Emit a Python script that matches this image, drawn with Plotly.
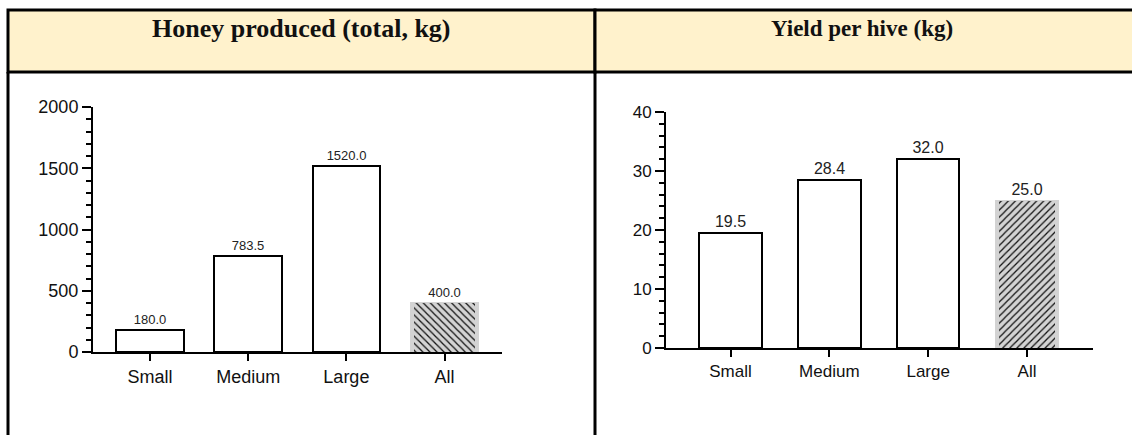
import plotly.graph_objects as go

# ---- data -------------------------------------------------------------
categories = ["Small", "Medium", "Large", "All"]
honey_total_kg = [180.0, 783.5, 1520.0, 400.0]
yield_per_hive_kg = [19.5, 28.4, 32.0, 25.0]
panel_titles = ["Honey produced (total, kg)", "Yield per hive (kg)"]

# ---- page geometry (pixels) ------------------------------------------
W, H = 1132, 435
px = lambda x: x / W
py = lambda y: 1 - y / H

HEADER_FILL = "#FFF2CC"
HATCH_BG = "#d3d3d3"
SANS = "Liberation Sans, Arial, sans-serif"
SERIF = "Liberation Serif, Times New Roman, serif"

fig = go.Figure()


def add_panel(idx, values, hatch, xdom, ydom, xrange, yrange, dtick, minor,
              bar_width, label_size, tick_size):
    sfx = "" if idx == 1 else str(idx)
    is_all = [c == "All" for c in categories]
    axes = dict(xaxis="x" + sfx, yaxis="y" + sfx)

    # outlined bars (the pooled "All" bar gets a grey body)
    fig.add_trace(go.Bar(
        x=categories, y=values, width=bar_width, **axes,
        marker=dict(
            color=[HATCH_BG if a else "white" for a in is_all],
            line=dict(color=[HATCH_BG if a else "black" for a in is_all], width=2),
        ),
        text=[f"{v:.1f}" for v in values],
        textposition="outside",
        cliponaxis=False,
        textfont=dict(family=SANS, size=label_size, color="#222"),
        showlegend=False, hoverinfo="skip",
    ))

    # hatching laid over the pooled bar
    pooled_x = [c for c, a in zip(categories, is_all) if a]
    pooled_y = [v for v, a in zip(values, is_all) if a]
    fig.add_trace(go.Bar(
        x=pooled_x, y=pooled_y, width=bar_width * 0.9, **axes,
        marker=dict(
            color="rgba(0,0,0,0)",
            line=dict(width=0),
            pattern=dict(shape=hatch, fillmode="overlay", fgcolor="#111",
                         fgopacity=1, size=5, solidity=0.25),
        ),
        showlegend=False, hoverinfo="skip",
    ))

    fig.update_layout(**{
        "xaxis" + sfx: dict(
            domain=xdom, range=xrange, anchor="y" + sfx, automargin=False,
            showline=True, linecolor="black", linewidth=2,
            ticks="outside", ticklen=7, tickwidth=2, tickcolor="black",
            tickfont=dict(family=SANS, size=tick_size, color="#111"),
            showgrid=False, zeroline=False, fixedrange=True,
        ),
        "yaxis" + sfx: dict(
            domain=ydom, range=yrange, anchor="x" + sfx, automargin=False,
            showline=True, linecolor="black", linewidth=2,
            ticks="outside", ticklen=9, tickwidth=2, tickcolor="black",
            tick0=0, dtick=dtick,
            minor=dict(dtick=minor, ticks="outside", ticklen=5,
                       tickwidth=2, tickcolor="black"),
            tickfont=dict(family=SANS, size=tick_size, color="#111"),
            showgrid=False, zeroline=False, fixedrange=True,
        ),
    })


add_panel(1, honey_total_kg, "\\",
          xdom=[px(93), px(502)], ydom=[py(352), py(107)],
          xrange=[-0.582, 3.586], yrange=[0, 2000], dtick=500, minor=100,
          bar_width=0.69, label_size=13, tick_size=18)
add_panel(2, yield_per_hive_kg, "/",
          xdom=[px(666), px(1093)], ydom=[py(348), py(112)],
          xrange=[-0.653, 3.668], yrange=[0, 40], dtick=10, minor=2,
          bar_width=0.632, label_size=16, tick_size=17)

# ---- table-style header cells and cell borders ------------------------
shapes = []
cells = [(8, 595), (595, 1145)]
for (x0, x1) in cells:
    shapes.append(dict(type="rect", xref="paper", yref="paper",
                       x0=px(x0), x1=px(x1), y0=py(72), y1=py(10),
                       fillcolor=HEADER_FILL, line=dict(color="black", width=3),
                       layer="below"))
for x in (8, 595):
    shapes.append(dict(type="line", xref="paper", yref="paper",
                       x0=px(x), x1=px(x), y0=py(72), y1=py(440),
                       line=dict(color="black", width=3)))

annotations = []
for title, (x0, x1), size in zip(panel_titles, [(8, 595), (595, 1129)], [26, 23]):
    annotations.append(dict(
        text=f"<b>{title}</b>", xref="paper", yref="paper",
        x=px((x0 + x1) / 2), y=py(28), xanchor="center", yanchor="middle",
        showarrow=False, font=dict(family=SERIF, size=size, color="#111"),
    ))

fig.update_layout(
    template="none",
    width=W, height=H,
    margin=dict(l=0, r=0, t=0, b=0, pad=0, autoexpand=False),
    paper_bgcolor="white", plot_bgcolor="white",
    shapes=shapes, annotations=annotations,
    barmode="overlay", bargap=0,
)

fig.write_html("out.html", config={"displayModeBar": False})
